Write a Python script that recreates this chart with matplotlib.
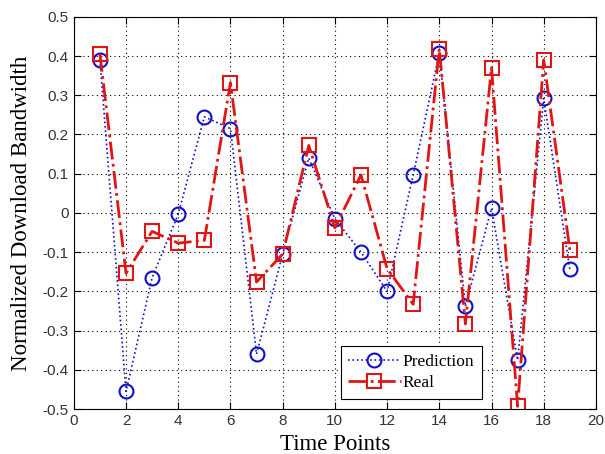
import numpy as np
import matplotlib.pyplot as plt

# time points and the two series
t = np.arange(1, 20)
prediction = [0.39, -0.455, -0.165, -0.003, 0.245, 0.215, -0.36, -0.105, 0.14, -0.015,
              -0.10, -0.20, 0.097, 0.407, -0.238, 0.012, -0.375, 0.292, -0.144]
real = [0.405, -0.154, -0.047, -0.077, -0.07, 0.332, -0.176, -0.105, 0.172, -0.038,
        0.097, -0.142, -0.233, 0.419, -0.283, 0.37, -0.493, 0.39, -0.094]

xticks = np.arange(0, 21, 2)
yticks = np.round(np.arange(-0.5, 0.51, 0.1), 1)

fig = plt.figure(figsize=(6.05, 4.54), dpi=100)
ax = fig.add_axes([0.122, 0.099, 0.863, 0.864])

ax.plot(t, prediction, ':o', color='#1010c8', lw=1.2, ms=10,
        mfc='none', mew=1.5, label='Prediction')
ax.plot(t, real, '-.s', color='#e01515', lw=2.0, ms=10,
        mfc='none', mew=1.5, label='Real')

ax.set_xlim(0, 20)
ax.set_ylim(-0.5, 0.5)
ax.set_xticks(xticks)
ax.set_yticks(yticks)
# matlab style tick labels: plain hyphen for minus
tick_font = {'family': 'Liberation Sans', 'size': 11, 'color': '#333333'}
ax.set_xticklabels([str(v) for v in xticks], **tick_font)
ax.set_yticklabels(['0' if v == 0 else f'{v:g}' for v in yticks], **tick_font)
ax.tick_params(direction='in', top=True, right=True, length=5, width=0.8)
ax.grid(True, linestyle=(0, (1, 3)), color='black', lw=0.8)

ax.set_xlabel('Time Points', family='Liberation Serif', fontsize=16.5, labelpad=4.5)
ax.set_ylabel('Normalized Download Bandwidth', family='Liberation Serif',
              fontsize=16.5, labelpad=8)

leg = ax.legend(loc='lower left', bbox_to_anchor=(0.511, 0.025),
                prop={'family': 'Liberation Serif', 'size': 12.5},
                fancybox=False, framealpha=1, edgecolor='black',
                handlelength=3.0, handletextpad=0.1, borderpad=0.45,
                labelspacing=0.3, borderaxespad=0)
leg.get_frame().set_linewidth(0.8)

fig.savefig('out.png', dpi=100)
